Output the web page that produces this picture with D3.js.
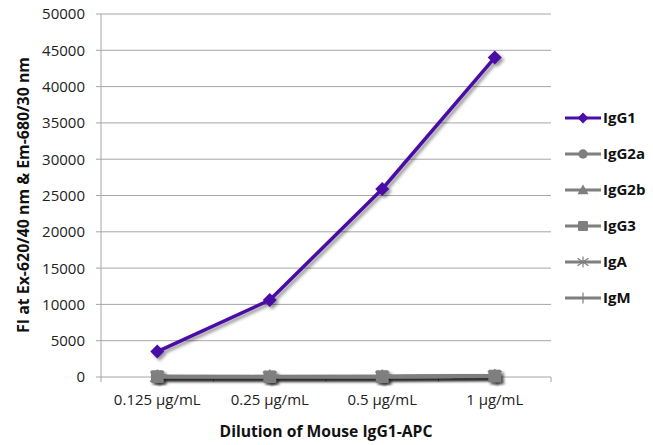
<!DOCTYPE html>
<html><head><meta charset="utf-8">
<script src="https://cdn.jsdelivr.net/npm/d3@7"></script>
<style>body{margin:0;background:#fff;} text{font-family:"Open Sans",sans-serif;}</style>
</head><body>
<svg id="c" width="653" height="445"></svg>
<script>
const categories = ["0.125 µg/mL", "0.25 µg/mL", "0.5 µg/mL", "1 µg/mL"];
const seriesNames = ["IgG1", "IgG2a", "IgG2b", "IgG3", "IgA", "IgM"];
const IgG1 = [3500, 10600, 25900, 44000];
const IgG2a = [60, 50, 60, 150];
const IgG2b = [70, 60, 70, 160];
const IgG3 = [50, 40, 50, 140];
const IgA = [40, 40, 50, 130];
const IgM = [30, 30, 40, 120];
const yTicks = [0, 5000, 10000, 15000, 20000, 25000, 30000, 35000, 40000, 45000, 50000];
const seriesValues = [IgG1, IgG2a, IgG2b, IgG3, IgA, IgM];
const colors = ["#4a0fa6", "#7f7f7f", "#7f7f7f", "#7f7f7f", "#7f7f7f", "#7f7f7f"];
const markers = ["diamond", "circle", "triangle", "square", "asterisk", "plus"];

const svg = d3.select("#c");
const pL = 101, pR = 551, pT = 14, pB = 377;
const x = d3.scaleBand().domain(categories).range([pL, pR]);
const y = d3.scaleLinear().domain([0, 50000]).range([pB, pT]);

function fit(sel, w) {
  const n = sel.node();
  const fs = parseFloat(sel.attr("font-size"));
  const len = n.getComputedTextLength();
  sel.attr("font-size", (fs * w / len).toFixed(2));
}

const defs = svg.append("defs");
const f = defs.append("filter").attr("id", "sh").attr("x", "-20%").attr("y", "-20%").attr("width", "140%").attr("height", "140%");
f.append("feDropShadow").attr("dx", 2.5).attr("dy", 2.5).attr("stdDeviation", 1.8).attr("flood-color", "#000").attr("flood-opacity", 0.4);

svg.append("g").selectAll("line").data(yTicks).join("line")
  .attr("x1", pL - 5).attr("x2", pR).attr("y1", d => y(d)).attr("y2", d => y(d))
  .attr("stroke", "#a6a6a6").attr("stroke-width", 1);
svg.append("line").attr("x1", pL).attr("x2", pL).attr("y1", pT).attr("y2", pB).attr("stroke", "#a6a6a6");
svg.append("g").selectAll("text").data(yTicks).join("text")
  .attr("x", 85).attr("y", d => y(d)).attr("dy", "0.36em").attr("text-anchor", "end")
  .attr("font-size", 15).attr("fill", "#222").text(d => d);
const bounds = [pL, ...categories.map(c => x(c) + x.bandwidth())];
svg.append("g").selectAll("line").data(bounds).join("line")
  .attr("x1", d => d).attr("x2", d => d).attr("y1", pB).attr("y2", pB + 5).attr("stroke", "#a6a6a6");
svg.append("g").selectAll("text").data(categories).join("text")
  .attr("x", d => x(d) + x.bandwidth() / 2).attr("y", 405).attr("text-anchor", "middle")
  .attr("font-size", 15).attr("fill", "#222").text(d => d);

const xt = svg.append("text").attr("x", 326).attr("y", 437).attr("text-anchor", "middle")
  .attr("font-size", 15.5).attr("font-weight", "bold").attr("fill", "#111").text("Dilution of Mouse IgG1-APC");
fit(xt, 213);
const yt = svg.append("text").attr("transform", "translate(29,195) rotate(-90)").attr("text-anchor", "middle")
  .attr("font-size", 15).attr("font-weight", "bold").attr("fill", "#111").text("FI at Ex-620/40 nm & Em-680/30 nm");
fit(yt, 276);

function marker(g, type, color, s) {
  if (type === "diamond") g.append("path").attr("d", `M0,${-s}L${s},0L0,${s}L${-s},0Z`).attr("fill", color);
  else if (type === "circle") g.append("circle").attr("r", s * 0.85).attr("fill", color);
  else if (type === "triangle") g.append("path").attr("d", `M0,${-s}L${s},${s*0.75}L${-s},${s*0.75}Z`).attr("fill", color);
  else if (type === "square") g.append("rect").attr("x", -s*0.9).attr("y", -s*0.9).attr("width", s*1.8).attr("height", s*1.8).attr("rx", 1).attr("fill", color);
  else if (type === "asterisk") g.append("path").attr("d", `M${-s},${-s*0.7}L${s},${s*0.7}M${-s},${s*0.7}L${s},${-s*0.7}M0,${-s}L0,${s}`).attr("stroke", color).attr("stroke-width", 1.2);
  else if (type === "plus") g.append("path").attr("d", `M0,${-s}L0,${s}`).attr("stroke", color).attr("stroke-width", 1.2);
}

const line = d3.line().x((d, i) => x(categories[i]) + x.bandwidth() / 2).y(d => y(d));
const order = [1, 2, 4, 5, 3, 0];
order.forEach(si => {
  const g = svg.append("g").attr("filter", "url(#sh)");
  g.append("path").datum(seriesValues[si]).attr("d", line).attr("fill", "none")
    .attr("stroke", colors[si]).attr("stroke-width", 3.5);
  seriesValues[si].forEach((v, i) => {
    const mg = g.append("g").attr("transform", `translate(${x(categories[i]) + x.bandwidth() / 2},${y(v)})`);
    marker(mg, markers[si], colors[si], 7);
  });
});

const lg = svg.append("g");
seriesNames.forEach((n, i) => {
  const yy = 118 + i * 36;
  const g = lg.append("g");
  g.append("line").attr("x1", 565).attr("x2", 601).attr("y1", yy).attr("y2", yy)
    .attr("stroke", colors[i]).attr("stroke-width", 3);
  const mg = g.append("g").attr("transform", `translate(583,${yy})`);
  marker(mg, markers[i], colors[i], 5.5);
  g.append("text").attr("x", 603).attr("y", yy).attr("dy", "0.36em")
    .attr("font-size", 15).attr("font-weight", "bold").attr("fill", "#111").text(n);
});
</script>
</body></html>
